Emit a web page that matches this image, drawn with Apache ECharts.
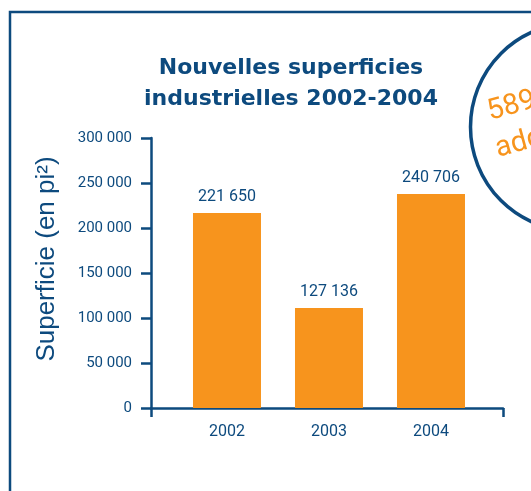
<!DOCTYPE html>
<html>
<head>
<meta charset="utf-8">
<script src="https://cdn.jsdelivr.net/npm/echarts@6/dist/echarts.min.js"></script>
<style>
  html, body { margin: 0; padding: 0; background: #fff; }
  #chart { width: 531px; height: 491px; }
</style>
</head>
<body>
<div id="chart"></div>
<script>
// data
var years = ['2002', '2003', '2004']
var barValues = [216700, 111100, 237800]
var valueLabels = ['221 650', '127 136', '240 706']
var yTicks = [0, 50000, 100000, 150000, 200000, 250000, 300000]

var navy = '#0d4a7e'
var orange = '#f7941d'
var condensed = 'Roboto, "Liberation Sans", sans-serif'

var chart = echarts.init(document.getElementById('chart'))

function spaced (n) {
  return String(n).replace(/\B(?=(\d{3})+(?!\d))/g, ' ')
}

var option = {
  animation: false,
  title: {
    text: 'Nouvelles superficies\nindustrielles 2002-2004',
    left: 286,
    top: 48,
    textAlign: 'center',
    textStyle: {
      color: navy,
      fontFamily: 'DejaVu Sans',
      fontWeight: 'bold',
      fontSize: 22,
      lineHeight: 31
    }
  },
  grid: { left: 151, right: 28, top: 138, bottom: 83 },
  xAxis: {
    type: 'value',
    min: -0.745,
    max: 2.706,
    splitLine: { show: false },
    axisLine: { show: true, onZero: false, lineStyle: { color: navy, width: 2.5 } },
    axisTick: { show: true, customValues: [-0.745, 2.706], length: 9, lineStyle: { color: navy, width: 2.5 } },
    axisLabel: {
      customValues: [0, 1, 2],
      formatter: function (v) { return years[Math.round(v)] },
      color: navy,
      fontFamily: condensed,
      fontSize: 16,
      margin: 16
    }
  },
  yAxis: {
    type: 'value',
    min: yTicks[0],
    max: yTicks[yTicks.length - 1],
    interval: 50000,
    splitLine: { show: false },
    axisLine: { show: true, onZero: false, lineStyle: { color: navy, width: 2.5 } },
    axisTick: { show: true, length: 10, lineStyle: { color: navy, width: 2.5 } },
    axisLabel: {
      formatter: spaced,
      color: navy,
      fontFamily: condensed,
      fontSize: 15,
      margin: 19
    }
  },
  graphic: [
    {
      type: 'rect',
      shape: { x: 10, y: 12, width: 700, height: 700 },
      style: { fill: 'none', stroke: navy, lineWidth: 2.5 },
      silent: true
    },
    {
      type: 'circle',
      shape: { cx: 574.5, cy: 127, r: 104 },
      style: { fill: '#fff', stroke: navy, lineWidth: 3.5 },
      silent: true
    },
    {
      type: 'text',
      x: 492,
      y: 127,
      rotation: 0.27,
      style: {
        text: '589 492 pi²',
        fill: orange,
        font: '29px Roboto, sans-serif',
        textVerticalAlign: 'bottom'
      },
      silent: true
    },
    {
      type: 'text',
      x: 500,
      y: 164,
      rotation: 0.27,
      style: {
        text: 'additionnels',
        fill: orange,
        font: '29px Roboto, sans-serif',
        textVerticalAlign: 'bottom'
      },
      silent: true
    },
    {
      type: 'text',
      x: 47,
      y: 259,
      rotation: Math.PI / 2,
      style: {
        text: 'Superficie (en pi²)',
        fill: navy,
        font: '26px "Liberation Sans", sans-serif',
        textAlign: 'center',
        textVerticalAlign: 'middle'
      },
      silent: true
    }
  ],
  series: [
    {
      type: 'bar',
      barWidth: 68,
      itemStyle: { color: orange },
      data: years.map(function (y, i) { return [i, barValues[i]] }),
      label: {
        show: true,
        position: 'top',
        distance: 8,
        color: navy,
        fontFamily: condensed,
        fontSize: 16,
        formatter: function (p) { return valueLabels[p.dataIndex] }
      }
    }
  ]
}

chart.setOption(option)
</script>
</body>
</html>
